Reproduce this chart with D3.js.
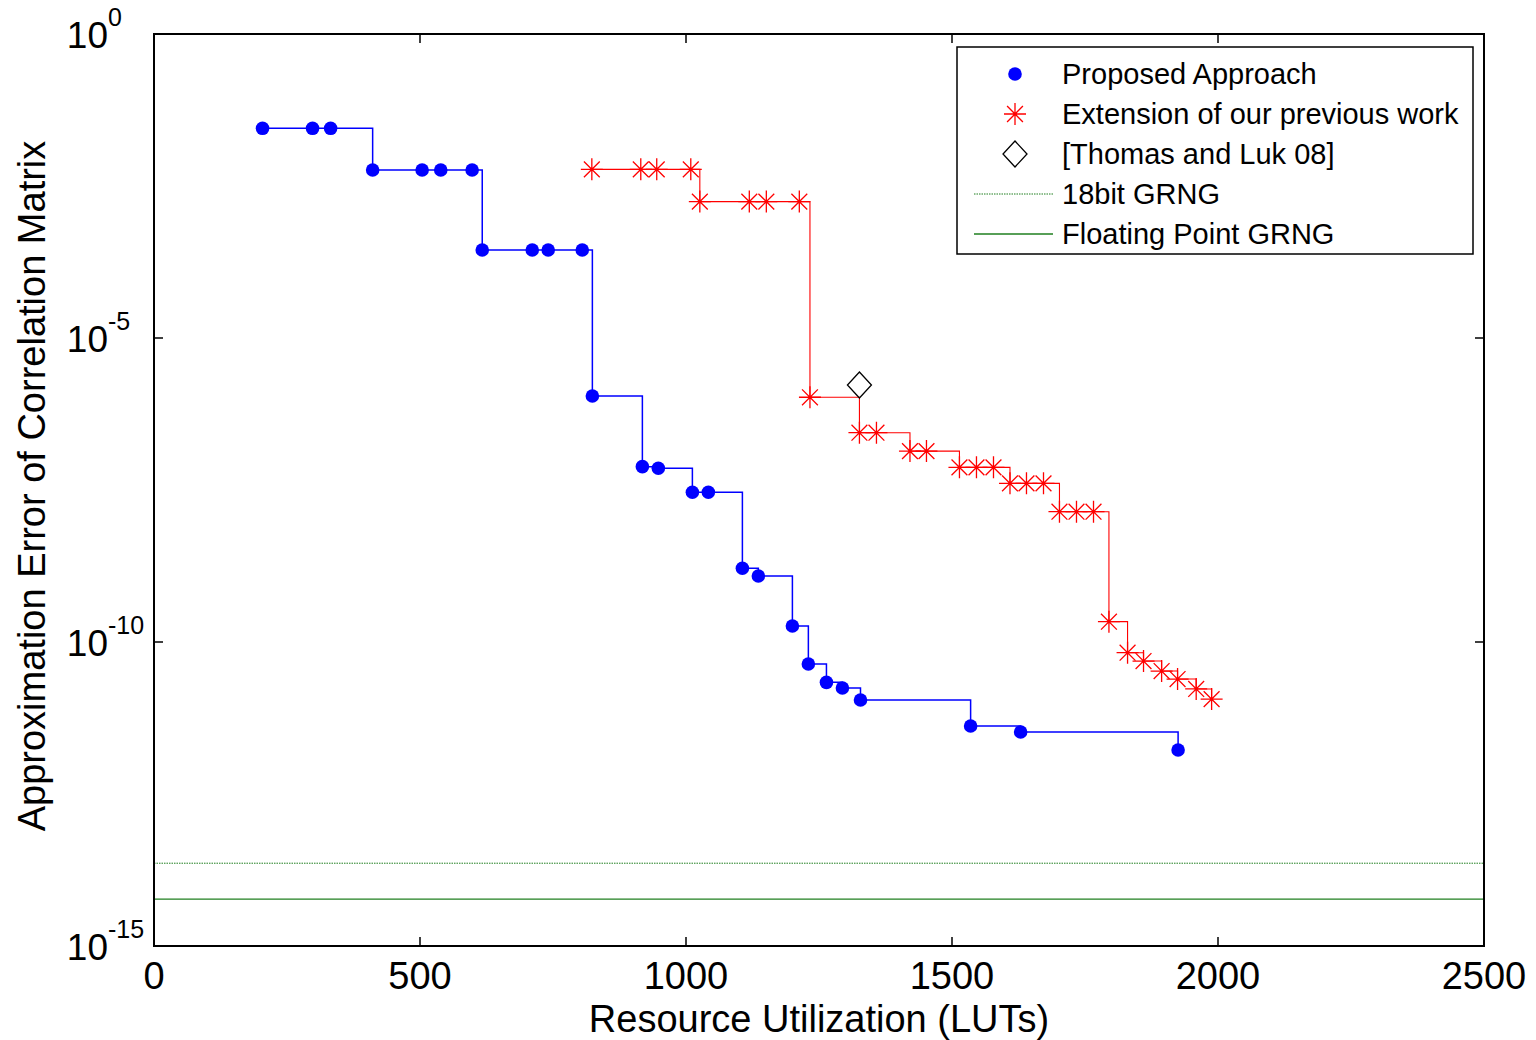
<!DOCTYPE html>
<html>
<head>
<meta charset="utf-8">
<script src="https://cdn.jsdelivr.net/npm/d3@7"></script>
<style>
html,body{margin:0;padding:0;background:#fff;}
svg{display:block;font-family:"Liberation Sans",Arial,sans-serif;}
</style>
</head>
<body>
<svg id="chart" width="1536" height="1040"></svg>
<script>
// ---- data ----
const proposedX = [204, 298, 332, 411, 504, 539, 598, 617, 711, 741, 805, 824, 918, 948, 1012, 1042, 1106, 1136, 1200, 1230, 1264, 1294, 1328, 1535, 1629, 1925];
const proposedY = [2.81e-2, 2.81e-2, 2.81e-2, 5.79e-3, 5.79e-3, 5.79e-3, 5.79e-3, 2.80e-4, 2.80e-4, 2.80e-4, 2.80e-4, 1.11e-6, 7.66e-8, 7.19e-8, 2.90e-8, 2.90e-8, 1.63e-9, 1.22e-9, 1.83e-10, 4.35e-11, 2.17e-11, 1.75e-11, 1.11e-11, 4.15e-12, 3.31e-12, 1.67e-12];
const extensionX = [823, 915, 945, 1009, 1026, 1119, 1151, 1213, 1233, 1326, 1358, 1421, 1452, 1514, 1546, 1578, 1609, 1640, 1672, 1702, 1734, 1766, 1795, 1830, 1860, 1894, 1924, 1959, 1988];
const extensionY = [5.94e-3, 5.94e-3, 5.94e-3, 5.94e-3, 1.75e-3, 1.75e-3, 1.75e-3, 1.75e-3, 1.06e-6, 2.77e-7, 2.77e-7, 1.38e-7, 1.38e-7, 7.46e-8, 7.46e-8, 7.46e-8, 4.07e-8, 4.07e-8, 4.07e-8, 1.39e-8, 1.39e-8, 1.39e-8, 2.16e-10, 6.67e-11, 4.86e-11, 3.33e-11, 2.46e-11, 1.69e-11, 1.15e-11];
const thomasX = [1326];
const thomasY = [1.69e-6];
const grng18Level = 2.3e-14;
const floatLevel = 5.9e-15;
const xTicks = [0, 500, 1000, 1500, 2000, 2500];
const yTickExps = [0, -5, -10, -15];
const legendLabels = ["Proposed Approach", "Extension of our previous work", "[Thomas and Luk 08]", "18bit GRNG", "Floating Point GRNG"];

// ---- layout ----
const L = 154, R = 1484, T = 34, B = 946;
const svg = d3.select("#chart");
const x = d3.scaleLinear().domain([0, 2500]).range([L, R]);
const y = d3.scaleLog().domain([1e-15, 1]).range([B, T]);
const green = "#1f7f1f";

// reference lines
svg.append("line").attr("x1", x(0)).attr("x2", x(2500)).attr("y1", y(grng18Level)).attr("y2", y(grng18Level))
  .attr("stroke", green).attr("stroke-width", 1).attr("stroke-dasharray", "1.5,1");
svg.append("line").attr("x1", x(0)).attr("x2", x(2500)).attr("y1", y(floatLevel)).attr("y2", y(floatLevel))
  .attr("stroke", green).attr("stroke-width", 1.3);

const stair = d3.line().x(d => x(d[0])).y(d => y(d[1])).curve(d3.curveStepAfter);
const prop = proposedX.map((v, i) => [v, proposedY[i]]);
const ext = extensionX.map((v, i) => [v, extensionY[i]]);

svg.append("path").attr("d", stair(ext)).attr("fill", "none").attr("stroke", "#ff0000").attr("stroke-width", 1.1);
svg.append("path").attr("d", stair(prop)).attr("fill", "none").attr("stroke", "#0000ff").attr("stroke-width", 1.5);

function asterisk(r) {
  const d = r * 0.72;
  return `M${-r},0L${r},0M0,${-r}L0,${r}M${-d},${-d}L${d},${d}M${-d},${d}L${d},${-d}`;
}
svg.append("g").selectAll("path").data(ext).join("path")
  .attr("transform", d => `translate(${x(d[0])},${y(d[1])})`)
  .attr("d", asterisk(11)).attr("stroke", "#ff0000").attr("stroke-width", 1.3).attr("fill", "none");

svg.append("g").selectAll("circle").data(prop).join("circle")
  .attr("cx", d => x(d[0])).attr("cy", d => y(d[1])).attr("r", 6.8).attr("fill", "#0000ff");

const diamond = "M0,-13L12,0L0,13L-12,0Z";
svg.append("g").selectAll("path").data(thomasX.map((v, i) => [v, thomasY[i]])).join("path")
  .attr("transform", d => `translate(${x(d[0])},${y(d[1])})`)
  .attr("d", diamond).attr("fill", "none").attr("stroke", "#000").attr("stroke-width", 1.3);

// axes box
svg.append("rect").attr("x", L).attr("y", T).attr("width", R - L).attr("height", B - T)
  .attr("fill", "none").attr("stroke", "#000").attr("stroke-width", 2);

// x ticks
const xAxisG = svg.append("g");
xTicks.forEach(t => {
  xAxisG.append("line").attr("x1", x(t)).attr("x2", x(t)).attr("y1", B).attr("y2", B - 9).attr("stroke", "#000").attr("stroke-width", 1.5);
  xAxisG.append("line").attr("x1", x(t)).attr("x2", x(t)).attr("y1", T).attr("y2", T + 9).attr("stroke", "#000").attr("stroke-width", 1.5);
  xAxisG.append("text").attr("x", x(t)).attr("y", 989).attr("text-anchor", "middle")
    .attr("font-size", 38).attr("fill", "#000").text(t);
});
// y ticks
const yAxisG = svg.append("g");
yTickExps.forEach(e => {
  const yy = y(Math.pow(10, e));
  yAxisG.append("line").attr("x1", L).attr("x2", L + 9).attr("y1", yy).attr("y2", yy).attr("stroke", "#000").attr("stroke-width", 1.5);
  yAxisG.append("line").attr("x1", R).attr("x2", R - 9).attr("y1", yy).attr("y2", yy).attr("stroke", "#000").attr("stroke-width", 1.5);
  yAxisG.append("text").attr("x", 108).attr("y", yy + 14).attr("text-anchor", "end")
    .attr("font-size", 37).attr("fill", "#000").text("10");
  yAxisG.append("text").attr("x", 108).attr("y", yy - 8).attr("text-anchor", "start")
    .attr("font-size", 25).attr("fill", "#000").text(String(e));
});

// axis titles
svg.append("text").attr("x", x(1250)).attr("y", 1032).attr("text-anchor", "middle")
  .attr("font-size", 38).attr("fill", "#000").text("Resource Utilization (LUTs)");
svg.append("text").attr("transform", "translate(45,486) rotate(-90)").attr("text-anchor", "middle")
  .attr("font-size", 38).attr("fill", "#000").text("Approximation Error of Correlation Matrix");

// legend
const lg = svg.append("g");
lg.append("rect").attr("x", 957).attr("y", 47).attr("width", 516).attr("height", 207)
  .attr("fill", "#fff").attr("stroke", "#000").attr("stroke-width", 1.5);
const rowY = i => 74 + i * 40;
legendLabels.forEach((lab, i) => {
  lg.append("text").attr("x", 1062).attr("y", rowY(i) + 10).attr("font-size", 29).attr("fill", "#000").text(lab);
});
lg.append("circle").attr("cx", 1015).attr("cy", rowY(0)).attr("r", 6.8).attr("fill", "#0000ff");
lg.append("path").attr("transform", `translate(1015,${rowY(1)})`).attr("d", asterisk(11))
  .attr("stroke", "#ff0000").attr("stroke-width", 1.3).attr("fill", "none");
lg.append("path").attr("transform", `translate(1015,${rowY(2)})`).attr("d", diamond)
  .attr("fill", "none").attr("stroke", "#000").attr("stroke-width", 1.3);
lg.append("line").attr("x1", 974).attr("x2", 1053).attr("y1", rowY(3)).attr("y2", rowY(3))
  .attr("stroke", green).attr("stroke-width", 1).attr("stroke-dasharray", "1.5,1");
lg.append("line").attr("x1", 974).attr("x2", 1053).attr("y1", rowY(4)).attr("y2", rowY(4))
  .attr("stroke", green).attr("stroke-width", 1.3);
</script>
</body>
</html>
